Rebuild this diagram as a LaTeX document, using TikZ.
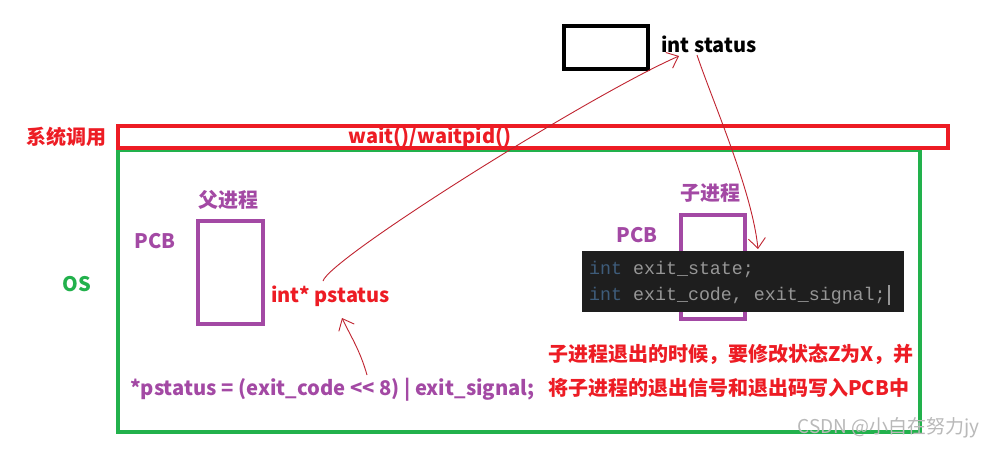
\documentclass[tikz,border=0pt]{standalone}
\usepackage{fontspec}
\setmainfont{Noto Sans CJK SC}
\newfontfamily\codefont{Liberation Mono}
\usetikzlibrary{arrows.meta}
\definecolor{pred}{RGB}{237,28,36}
\definecolor{pgreen}{RGB}{34,177,76}
\definecolor{ppurple}{RGB}{163,73,164}
\definecolor{hand}{RGB}{192,36,48}
\definecolor{codebg}{RGB}{30,30,30}
\definecolor{codekw}{RGB}{62,92,122}
\definecolor{codetx}{RGB}{150,150,150}
\definecolor{wm}{RGB}{185,185,185}
\tikzset{
  lbl/.style={inner sep=0pt, font=\bfseries\fontsize{20}{24}\selectfont},
  redlbl/.style={lbl, text=pred},
  purlbl/.style={lbl, text=ppurple},
  pcbbox/.style={draw=ppurple, line width=4pt, inner sep=0pt},
  handarrow/.style={draw=hand, line width=0.9pt, -{Straight Barb[length=10pt,width=17pt]}},
  codeline/.style={inner sep=0pt, anchor=west, font=\codefont\fontsize{18.3}{20}\selectfont, text=codetx}
}
\begin{document}
\begin{tikzpicture}[x=1pt,y=-1pt]
\useasboundingbox[fill=white] (0,0) rectangle (996,448);

% top buffer
\node[draw, line width=4pt, minimum width=84pt, minimum height=43pt, inner sep=0pt] (buf) at (606,47.5) {};
\node[lbl, anchor=west] (st) at (661,44) {int status};

% OS (green) and system call (red)
\node[draw=pgreen, line width=4pt, minimum width=802pt, minimum height=282pt, inner sep=0pt] (os) at (519,291) {};
\node[draw=pred, line width=4pt, minimum width=830pt, minimum height=22pt, inner sep=0pt] (sys) at (533,137) {};
\node[redlbl] (syslbl) at (67,137) {系统调用};
\node[redlbl] (wait) at (430,137) {wait()/waitpid()};
\node[lbl, text=pgreen] (oslbl) at (77,284) {OS};

% parent
\node[purlbl] (par) at (228,200) {父进程};
\node[pcbbox, minimum width=65pt, minimum height=103pt] (ppcb) at (230.5,272.5) {};
\node[purlbl] (ppcblbl) at (155,241) {PCB};
\node[redlbl, anchor=west] (ps) at (271,296) {int* pstatus};

% child
\node[purlbl] (chi) at (710,193) {子进程};
\node[pcbbox, minimum width=64pt, minimum height=104pt] (cpcb) at (713,267) {};
\node[purlbl] (cpcblbl) at (637,235) {PCB};
\node[fill=codebg, minimum width=322pt, minimum height=61pt, inner sep=0pt] (code) at (743,281.5) {};
\node[codeline] (c1) at (589,269) {\textcolor{codekw}{int} exit\_state;};
\node[codeline] (c2) at (589,296) {\textcolor{codekw}{int} exit\_code, exit\_signal;};
\draw[codetx, line width=1.5pt] ([xshift=3pt,yshift=-9pt]c2.east) -- ([xshift=3pt,yshift=11pt]c2.east);

% texts at bottom
\node[redlbl, anchor=west] (t1) at (548,354) {子进程退出的时候，要修改状态Z为X，并};
\node[redlbl, anchor=west] (t2) at (548,388) {将子进程的退出信号和退出码写入PCB中};
\node[purlbl, anchor=west, font=\bfseries\fontsize{20.2}{24}\selectfont] (form) at (130,390) {*pstatus = (exit\_code {<}{<} 8) | exit\_signal;};

% watermark
\node[inner sep=0pt, anchor=east, text=wm, font=\fontsize{19}{22}\selectfont] (wmk) at (980,428) {CSDN @小白在努力jy};

% hand-drawn arrows
\coordinate (a1s) at (323,281);
\coordinate (a1e) at (679,56);
\draw[handarrow] (a1s) .. controls (330,258) and (590,95) .. (a1e);
\coordinate (a2s) at (697,55);
\coordinate (a2e) at (758,249);
\draw[handarrow] (a2s) .. controls (712,100) and (752,190) .. (a2e);
\coordinate (a3s) at (367,375);
\coordinate (a3e) at (342,318);
\draw[handarrow] (a3s) .. controls (360,350) and (350,335) .. (a3e);
\end{tikzpicture}
\end{document}
